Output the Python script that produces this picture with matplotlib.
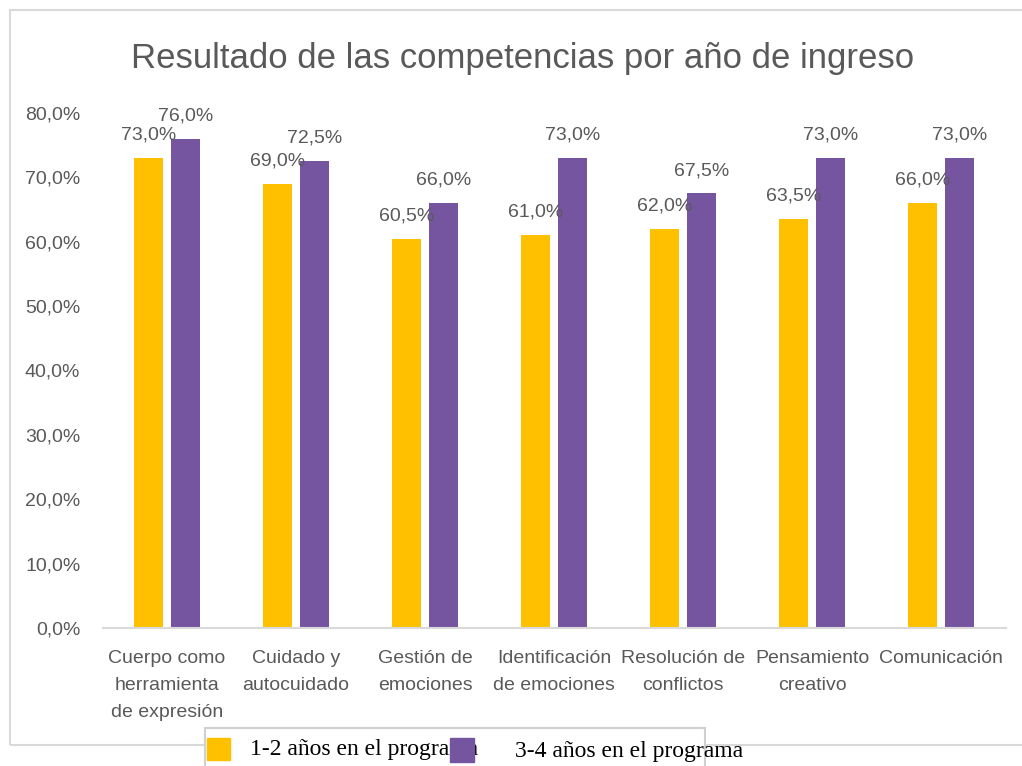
import matplotlib.pyplot as plt
import numpy as np
from matplotlib.patches import Rectangle

plt.rcParams['font.family'] = ['Liberation Sans']

categorias = ['Cuerpo como\nherramienta\nde expresión', 'Cuidado y\nautocuidado',
              'Gestión de\nemociones', 'Identificación\nde emociones',
              'Resolución de\nconflictos', 'Pensamiento\ncreativo', 'Comunicación']
anios_1_2 = [73.0, 69.0, 60.5, 61.0, 62.0, 63.5, 66.0]
anios_3_4 = [76.0, 72.5, 66.0, 73.0, 67.5, 73.0, 73.0]
series = ['1-2 años en el programa', '3-4 años en el programa']

amarillo = '#FFC000'
morado = '#7655A0'
gris = '#595959'

fig = plt.figure(figsize=(10.22, 7.66), dpi=100)
ax = fig.add_axes([0.1003, 0.1802, 0.8836, 0.6723])

x = np.arange(len(categorias))
w = 0.225
off = 0.143
b1 = ax.bar(x - off, anios_1_2, w, color=amarillo)
b2 = ax.bar(x + off, anios_3_4, w, color=morado)

for barras in (b1, b2):
    for b in barras:
        v = b.get_height()
        ax.annotate(f'{v:.1f}%'.replace('.', ','), (b.get_x() + b.get_width() / 2, v),
                    xytext=(0, 16.5), textcoords='offset points', ha='center', va='center',
                    fontsize=14, color=gris, annotation_clip=False)

ax.set_xlim(-0.5, len(categorias) - 0.5)
ax.set_ylim(0, 80)
ax.set_yticks(np.arange(0, 81, 10))
ax.set_yticklabels([f'{t:.1f}%'.replace('.', ',') for t in np.arange(0, 81, 10)])
ax.set_xticks(x)
ax.set_xticklabels(categorias, linespacing=1.75)
ax.tick_params(axis='y', length=0, pad=16, labelsize=14, labelcolor=gris)
ax.tick_params(axis='x', length=0, pad=16, labelsize=14, labelcolor=gris)
for s in ('top', 'right', 'left'):
    ax.spines[s].set_visible(False)
ax.spines['bottom'].set_color('#D9D9D9')
ax.spines['bottom'].set_linewidth(1.5)

fig.text(0.511, 0.924, 'Resultado de las competencias por año de ingreso',
         ha='center', va='center', fontsize=25, color=gris)

# marco del grafico
W, H = 1022, 766
fig.add_artist(Rectangle((10 / W, 1 - 745 / H), 1.1, (745 - 10) / H, transform=fig.transFigure,
                         fill=False, edgecolor='#D9D9D9', linewidth=1.5))

# leyenda
fig.add_artist(Rectangle((205 / W, -0.05), 500 / W, 0.05 + (766 - 728) / H,
                         transform=fig.transFigure, facecolor='white',
                         edgecolor='#D0D0D0', linewidth=1.5))
fig.add_artist(Rectangle((207 / W, 1 - 760 / H), 23 / W, 22 / H,
                         transform=fig.transFigure, color=amarillo, zorder=5))
fig.text(250 / W, 1 - 750 / H, series[0], ha='left', va='center', fontsize=17,
         family='Liberation Serif', color='black')
fig.add_artist(Rectangle((450 / W, 1 - 762 / H), 24 / W, 24 / H,
                         transform=fig.transFigure, color=morado, zorder=5))
fig.text(515 / W, 1 - 752 / H, series[1], ha='left', va='center', fontsize=17,
         family='Liberation Serif', color='black')

fig.savefig('out.png', dpi=100)
